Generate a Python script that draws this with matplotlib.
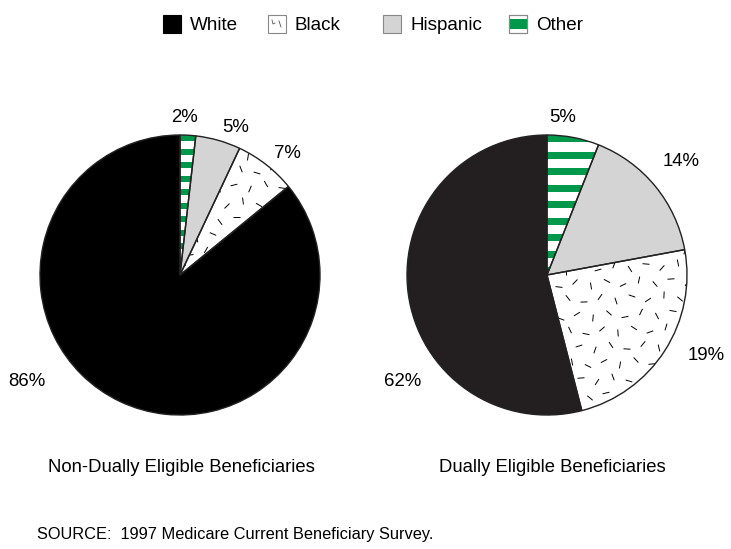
import numpy as np
import matplotlib
matplotlib.use('Agg')
import matplotlib.pyplot as plt
from matplotlib.patches import Rectangle, Wedge
from matplotlib.collections import LineCollection

plt.rcParams['font.family'] = ['Liberation Sans', 'DejaVu Sans']

# ---- data ----
legend_categories = ['White', 'Black', 'Hispanic', 'Other']
# slices drawn clockwise from 12 o'clock
pie_order = ['Other', 'Hispanic', 'Black', 'White']
non_dual_shares = [1.8, 5.2, 7.1, 85.9]
non_dual_labels = ['2%', '5%', '7%', '86%']
dual_shares = [6.0, 16.1, 23.9, 54.0]
dual_labels = ['5%', '14%', '19%', '62%']
titles = ['Non-Dually Eligible Beneficiaries', 'Dually Eligible Beneficiaries']
source_text = 'SOURCE:  1997 Medicare Current Beneficiary Survey.'

GREEN = '#00994c'
GRAY = '#d4d4d4'

W, H = 731, 549
fig = plt.figure(figsize=(W / 100, H / 100), dpi=100)
ax = fig.add_axes([0, 0, 1, 1])


def py(y):
    return H - y


R = 140


def add_dashes(clip, cx, cy, spacing=16, length=7):
    segs = []
    n = int(2 * R / spacing) + 2
    for i in range(n):
        for j in range(n):
            x = cx - R + i * spacing + ((j * 7) % spacing)
            y = cy - R + j * spacing + ((i * 5) % 9)
            ang = np.deg2rad((i * 53 + j * 97) % 180)
            dx, dy = np.cos(ang) * length / 2, np.sin(ang) * length / 2
            segs.append([(x - dx, y - dy), (x + dx, y + dy)])
    lc = LineCollection(segs, colors='black', linewidths=0.7, zorder=2)
    ax.add_collection(lc)
    lc.set_clip_path(clip)


def add_stripes(clip, cx, cy, period, band):
    k = 0
    while k * period < 2 * R:
        y0 = cy + R - k * period - band
        r = Rectangle((cx - R, y0), 2 * R, band, facecolor=GREEN, edgecolor='none', zorder=2)
        ax.add_patch(r)
        r.set_clip_path(clip)
        k += 1


def draw_pie(shares, center, white_color, period, band):
    colors = {'Other': 'white', 'Hispanic': GRAY, 'Black': 'white', 'White': white_color}
    wedges, _ = ax.pie(shares, center=center, radius=R, startangle=90, counterclock=False,
                       colors=[colors[c] for c in pie_order],
                       wedgeprops=dict(edgecolor='none', linewidth=0), frame=True)
    for w, c in zip(wedges, pie_order):
        if c == 'Other':
            add_stripes(w, center[0], center[1], period, band)
        elif c == 'Black':
            add_dashes(w, center[0], center[1])
        ax.add_patch(Wedge(w.center, w.r, w.theta1, w.theta2, fill=False,
                           edgecolor='#222222', linewidth=1.0, zorder=3))


left_c = (180, py(275))
right_c = (547, py(275))
draw_pie(non_dual_shares, left_c, 'black', 13.5, 6)
draw_pie(dual_shares, right_c, '#231f20', 16.5, 7)

FS = 13.4
left_label_xy = [(185, 117), (236, 127), (287, 153), (27, 381)]
right_label_xy = [(563, 117), (681, 161), (706, 355), (403, 381)]
for lab, (x, y) in zip(non_dual_labels, left_label_xy):
    ax.text(x, py(y), lab, ha='center', va='center', fontsize=FS)
for lab, (x, y) in zip(dual_labels, right_label_xy):
    ax.text(x, py(y), lab, ha='center', va='center', fontsize=FS)

ax.text(181, py(467.5), titles[0], ha='center', va='center', fontsize=13.3)
ax.text(552, py(467.5), titles[1], ha='center', va='center', fontsize=13.3)
ax.text(37, py(534), source_text, ha='left', va='center', fontsize=11.8)

# ---- legend ----
leg_x = [163, 268, 383, 509]
for cat, x in zip(legend_categories, leg_x):
    y_top, size = 15, 18
    if cat == 'White':
        ax.add_patch(Rectangle((x, py(y_top + size)), size, size, facecolor='black', edgecolor='black', lw=0.8))
    elif cat == 'Black':
        ax.add_patch(Rectangle((x, py(y_top + size)), size, size, facecolor='white', edgecolor='#888888', lw=0.8))
        ax.plot([x + 4, x + 5, x + 7], [py(y_top + 5), py(y_top + 9), py(y_top + 8)], color='#555555', lw=0.6)
        ax.plot([x + 11, x + 13], [py(y_top + 6), py(y_top + 12)], color='#555555', lw=0.6)
    elif cat == 'Hispanic':
        ax.add_patch(Rectangle((x, py(y_top + size)), size, size, facecolor=GRAY, edgecolor='#888888', lw=0.8))
    else:
        ax.add_patch(Rectangle((x, py(y_top + size)), size, size, facecolor='white', edgecolor='#888888', lw=0.8))
        ax.add_patch(Rectangle((x, py(y_top + 13.5)), size, 9.5, facecolor=GREEN, edgecolor='none', zorder=3))
        ax.add_patch(Rectangle((x, py(y_top + size)), size, size, fill=False, edgecolor='#888888', lw=0.8, zorder=4))
    ax.text(x + size + 9, py(y_top + size / 2 + 1.5), cat, ha='left', va='center', fontsize=13.6)

ax.set_xlim(0, W)
ax.set_ylim(0, H)
ax.set_aspect('auto')
ax.axis('off')

fig.savefig('out.png', dpi=100, facecolor='white')
